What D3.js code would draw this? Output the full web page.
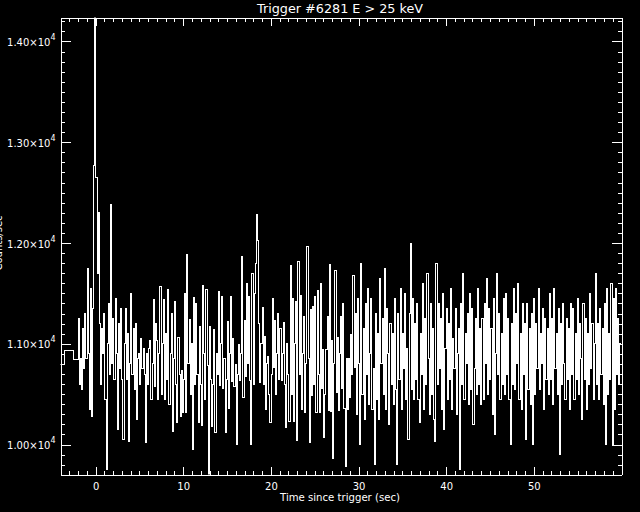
<!DOCTYPE html>
<html>
<head>
<meta charset="utf-8">
<script src="https://cdn.jsdelivr.net/npm/d3@7"></script>
<style>
  html, body { margin: 0; padding: 0; background: #000; }
  svg { display: block; }
  text { fill: #fff; font-family: "DejaVu Sans", sans-serif; }
</style>
</head>
<body>
<div id="chart"></div>
<script>
// Light curve, trigger 6281, E > 25 keV

// coarse pre-trigger bins (start time in s, rate)
var preTimes = [-4.6, -3.55, -2.52];
var preRates = [10790, 10935, 10840];

// fine bins, 0.128 s each, starting at -2.0 s (20 bins per row = 2.56 s)
var fineStart = -2.0;
var fineStep = 0.128;
var rates = [
    11250, 10600, 10850, 10550, 11150, 10750, 11300, 10850, 11750, 10900, 10350, 11550, 10280, 11350, 12770, 14500, 12650, 11700, 12300, 11200,
    10600, 11150, 10900, 11300, 10450, 9750, 11000, 11400, 10700, 12380, 10800, 11250, 10650, 11450, 10900, 10150, 11200, 10750, 11350, 10650,
    10050, 11000, 11350, 10650, 11100, 10030, 10800, 11500, 10700, 11150, 10550, 11200, 10250, 10850, 10900, 10600, 11050, 10750, 10950, 10700,
    10020, 10900, 10600, 10950, 11030, 10450, 10800, 11440, 10580, 11200, 11030, 10450, 10900, 11570, 10500, 11000, 11440, 10450, 11100, 10650,
    11540, 10400, 10900, 11300, 10130, 10850, 11420, 10600, 10220, 11060, 10700, 10280, 10740, 10320, 10650, 11500, 10320, 11890, 10800, 11240,
    10500, 11000, 9950, 11460, 10600, 11400, 10700, 10220, 11170, 10600, 10190, 11580, 10900, 10450, 11540, 10780, 9700, 11170, 10650, 10180,
    10600, 11140, 10120, 10900, 10700, 11520, 10590, 11000, 11470, 10560, 10850, 10120, 10650, 11220, 10360, 10900, 11470, 10630, 11050, 10580,
    10790, 10000, 10700, 10990, 10640, 10900, 11870, 10470, 11230, 10680, 11600, 10800, 11470, 10640, 10000, 11700, 10600, 11500, 11800, 12280,
    12030, 11200, 10620, 11000, 11360, 10600, 11070, 10350, 10800, 10870, 10500, 10220, 10700, 11450, 10760, 11230, 10500, 10900, 11300, 10650,
    11150, 10640, 10900, 11210, 10600, 10170, 11000, 10700, 10230, 11780, 10500, 11450, 10230, 11000, 11420, 10040, 11820, 10700, 11480, 10350,
    10900, 11270, 10320, 10800, 11970, 10850, 10020, 11340, 10490, 11370, 10600, 11470, 10320, 11530, 10700, 10320, 11600, 10560, 10940, 10070,
    10500, 10940, 11270, 10340, 11790, 10330, 11030, 9860, 10800, 11730, 10520, 11060, 10340, 10900, 11270, 10560, 11400, 10360, 9780, 10850,
    10350, 10850, 10470, 11090, 10700, 11680, 10760, 11300, 10300, 11450, 10800, 10000, 11800, 10500, 11150, 10250, 11400, 10700, 11550, 10400,
    10900, 11450, 10350, 10750, 9800, 11300, 10450, 11100, 10250, 11650, 10800, 11250, 10500, 11750, 10350, 11350, 10900, 10200, 11200, 10600,
    11100, 10400, 11450, 10550, 9800, 11300, 10650, 11550, 10350, 11100, 10750, 11500, 10450, 10950, 10050, 11300, 12000, 10550, 11450, 10450,
    11200, 10650, 11400, 10450, 10220, 11100, 10700, 11600, 10350, 11250, 10600, 11700, 10850, 10300, 11400, 10500, 11150, 10250, 10030, 11800,
    10600, 11400, 10750, 11250, 10350, 11500, 10150, 10950, 11350, 10450, 11200, 10650, 11550, 10350, 11050, 10750, 11350, 10300, 10900, 11150,
    9750, 11400, 10600, 11700, 10450, 11100, 10800, 11300, 10400, 11500, 10550, 11350, 10200, 10750, 11250, 10500, 11550, 10600, 11150, 10400,
    11250, 10450, 11400, 10800, 11650, 10500, 11350, 10650, 11150, 10300, 11450, 10100, 10900, 11700, 10700, 11300, 10450, 11100, 10600, 11450,
    10500, 11500, 10700, 11250, 10450, 10000, 11200, 10600, 11550, 10550, 11300, 10800, 11600, 10450, 11100, 10350, 11400, 10700, 11200, 10050,
    11400, 10550, 11150, 10400, 11300, 10000, 11450, 10500, 11200, 10750, 11550, 10550, 11100, 10800, 11350, 10350, 11250, 10650, 11150, 10500,
    11500, 10650, 11250, 10400, 11550, 10750, 11100, 10500, 11350, 9900, 11200, 10600, 11400, 10800, 10450, 11250, 10650, 11150, 10350, 11400,
    10700, 11350, 10450, 11100, 10650, 11450, 10500, 11200, 10850, 10250, 11400, 10650, 11250, 10350, 11100, 10600, 11500, 10750, 11200, 10450,
    11000, 11700, 10600, 11200, 10450, 11350, 10700, 11150, 10400, 11400, 10000, 11550, 10500, 11100, 10650, 11600, 10000, 11450, 10350, 11550,
    10700, 11250, 10600, 11000
];

var xMajor = [0, 10, 20, 30, 40, 50];
var yMajor = [10000, 11000, 12000, 13000, 14000];
var yLabels = ["1.00", "1.10", "1.20", "1.30", "1.40"];
var titleText = "Trigger #6281 E > 25 keV";
var xTitle = "Time since trigger (sec)";
var yTitle = "Counts/sec";

(function () {
    "use strict";

    var W = 640, H = 512;
    var pLeft = 60.5, pRight = 621.5, pTop = 17.5, pBottom = 474.5;

    var svg = d3.select("#chart").append("svg")
        .attr("width", W)
        .attr("height", H)
        .style("background", "#000");

    var x = d3.scaleLinear().domain([-4, 60]).range([pLeft, pRight]);
    var y = d3.scaleLinear().domain([9703, 14238]).range([pBottom, pTop]);

    // build step points: each bin start, then the final edge
    var pts = preTimes.map(function (t, i) { return [t, preRates[i]]; });
    rates.forEach(function (v, i) { pts.push([fineStart + i * fineStep, v]); });
    pts.push([fineStart + rates.length * fineStep, rates[rates.length - 1]]);

    svg.append("clipPath").attr("id", "plot-clip")
        .append("rect")
        .attr("x", pLeft).attr("y", pTop)
        .attr("width", pRight - pLeft).attr("height", pBottom - pTop);

    var line = d3.line()
        .curve(d3.curveStepAfter)
        .x(function (d) { return x(d[0]); })
        .y(function (d) { return y(d[1]); });

    svg.append("path")
        .datum(pts)
        .attr("clip-path", "url(#plot-clip)")
        .attr("fill", "none")
        .attr("stroke", "#fff")
        .attr("stroke-width", 1)
        .attr("shape-rendering", "crispEdges")
        .attr("d", line);

    // axes (ticks point inward like IDL)
    function styleAxis(g) {
        g.selectAll("path, line")
            .attr("stroke", "#fff")
            .attr("shape-rendering", "crispEdges");
        g.selectAll("text")
            .attr("fill", "#fff")
            .attr("font-family", "'DejaVu Sans', sans-serif")
            .attr("font-size", "10px");
    }

    var xMinor = d3.range(-3, 60);
    var yMinor = d3.range(9800, 14300, 100);

    svg.append("g")
        .attr("transform", "translate(0," + pBottom + ")")
        .call(d3.axisBottom(x).tickValues(xMinor).tickSize(-4).tickSizeOuter(0).tickFormat(""))
        .call(styleAxis);
    svg.append("g")
        .attr("transform", "translate(0," + pBottom + ")")
        .call(d3.axisBottom(x).tickValues(xMajor).tickSize(-8).tickSizeOuter(0)
            .tickPadding(8).tickFormat(d3.format("d")))
        .call(styleAxis);

    svg.append("g")
        .attr("transform", "translate(0," + pTop + ")")
        .call(d3.axisTop(x).tickValues(xMinor).tickSize(-4).tickSizeOuter(0).tickFormat(""))
        .call(styleAxis);
    svg.append("g")
        .attr("transform", "translate(0," + pTop + ")")
        .call(d3.axisTop(x).tickValues(xMajor).tickSize(-8).tickSizeOuter(0).tickFormat(""))
        .call(styleAxis);

    svg.append("g")
        .attr("transform", "translate(" + pLeft + ",0)")
        .call(d3.axisLeft(y).tickValues(yMinor).tickSize(-4).tickSizeOuter(0).tickFormat(""))
        .call(styleAxis);
    var yAx = svg.append("g")
        .attr("transform", "translate(" + pLeft + ",0)")
        .call(d3.axisLeft(y).tickValues(yMajor).tickSize(-10).tickSizeOuter(0).tickFormat(""))
        .call(styleAxis);

    svg.append("g")
        .attr("transform", "translate(" + pRight + ",0)")
        .call(d3.axisRight(y).tickValues(yMinor).tickSize(-4).tickSizeOuter(0).tickFormat(""))
        .call(styleAxis);
    svg.append("g")
        .attr("transform", "translate(" + pRight + ",0)")
        .call(d3.axisRight(y).tickValues(yMajor).tickSize(-10).tickSizeOuter(0).tickFormat(""))
        .call(styleAxis);

    // y tick labels with exponent
    yAx.selectAll(".tick text").each(function (d, i) {
        var t = d3.select(this)
            .attr("x", -5)
            .attr("dy", null)
            .attr("y", 4)
            .attr("text-anchor", "end");
        t.append("tspan").text(yLabels[i] + "\u00d710");
        t.append("tspan").attr("dy", -6).attr("font-size", "8px").text("4");
    });

    // titles
    svg.append("text")
        .attr("x", 340).attr("y", 13)
        .attr("text-anchor", "middle")
        .attr("font-size", "12px")
        .attr("textLength", 166)
        .attr("lengthAdjust", "spacingAndGlyphs")
        .text(titleText);

    svg.append("text")
        .attr("x", 340).attr("y", 501)
        .attr("text-anchor", "middle")
        .attr("font-size", "10px")
        .attr("textLength", 120)
        .attr("lengthAdjust", "spacingAndGlyphs")
        .text(xTitle);

    // y title sits mostly off the left edge, as in the original plot
    svg.append("text")
        .attr("transform", "translate(2,243) rotate(-90)")
        .attr("text-anchor", "middle")
        .attr("font-size", "10px")
        .text(yTitle);
})();
</script>
</body>
</html>
